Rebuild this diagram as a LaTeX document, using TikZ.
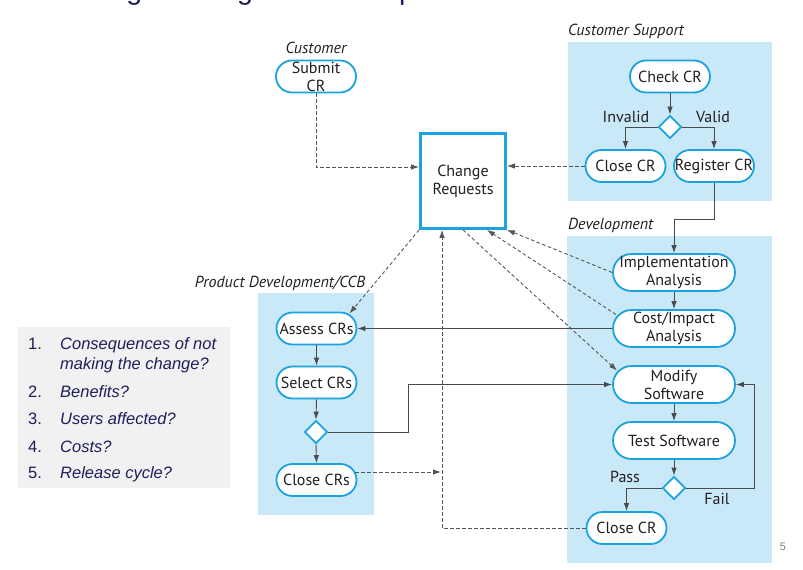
\documentclass[tikz,border=0pt]{standalone}
\usepackage{fontspec}
\setmainfont{PT Sans}
\newfontfamily\listfont{Liberation Sans}
\usetikzlibrary{shapes.geometric,arrows.meta,calc}
\definecolor{cblue}{HTML}{1BA3E0}
\definecolor{lanebg}{HTML}{C9E9F9}
\definecolor{listbg}{HTML}{F1F1F1}
\definecolor{navy}{HTML}{1E1E5C}
\definecolor{txt}{HTML}{231F20}
\definecolor{solidc}{HTML}{4A4A4A}
\definecolor{dashc}{HTML}{555555}
\definecolor{pgnum}{HTML}{7F7F7F}
\begin{document}
\begin{tikzpicture}[x=1pt,y=-1pt,
  every node/.style={text=txt},
  nfont/.style={font=\fontsize{16}{18}\selectfont},
  actS/.style={nfont, draw=cblue, line width=1.8pt, fill=white, rectangle, rounded corners=16pt, minimum width=80pt, minimum height=32pt, inner sep=0pt, align=center},
  actL/.style={actS, rounded corners=18.5pt, minimum width=122pt, minimum height=37pt},
  dec/.style={diamond, draw=cblue, line width=1.8pt, fill=white, minimum size=23pt, inner sep=0pt},
  lanelbl/.style={font=\fontsize{16}{18}\selectfont\itshape, inner sep=0pt},
  lbl/.style={nfont, inner sep=0pt},
  flow/.style={draw=solidc, line width=0.9pt, -{Latex[length=8pt,width=5.5pt]}},
  dflow/.style={draw=dashc, line width=0.9pt, dash pattern=on 3.5pt off 2.5pt, -{Latex[length=8pt,width=5.5pt]}},
  item/.style={font=\listfont\fontsize{16.5}{20}\selectfont\itshape, text=navy, anchor=base west, inner sep=0pt},
  num/.style={font=\listfont\fontsize{16.5}{20}\selectfont, text=navy, anchor=base west, inner sep=0pt}]

\useasboundingbox (0,0) rectangle (803,570);

% clipped title (only descenders visible, as in the reference)
\begin{scope}
\clip (0,0) rectangle (803,570);
\node[font=\listfont\fontsize{28.5}{30}\selectfont, text=navy, anchor=base west, inner sep=0pt] (title) at (58,-1) {Change management\hspace{67pt}process};
\end{scope}

% lanes
\fill[lanebg] (568,42) rectangle (772,201);
\fill[lanebg] (567,236) rectangle (772,563);
\fill[lanebg] (258,293) rectangle (374,515);
\fill[listbg] (18,327) rectangle (230,488);

% lane labels
\node[lanelbl] (lcust) at (316,48) {Customer};
\node[lanelbl, anchor=west] (lcs) at (568,31) {Customer Support};
\node[lanelbl, anchor=west] (ldev) at (568,225) {Development};
\node[lanelbl] (lpd) at (280,283) {Product Development/CCB};

% nodes
\node[actS] (submit) at (316,76.5) {Submit\\CR};
\node[nfont, draw=cblue, line width=2.8pt, fill=white, minimum width=85pt, minimum height=95pt, align=center, inner sep=0pt] (cr) at (463,181) {Change\\Requests};

\node[actS] (check) at (670,76.5) {Check CR};
\node[dec] (d1) at (670,127) {};
\node[actS] (closecs) at (625.5,166) {Close CR};
\node[actS] (register) at (714,166) {Register CR};

\node[actL] (impl) at (674,272.5) {Implementation\\Analysis};
\node[actL] (cost) at (674,328.5) {Cost/Impact\\Analysis};
\node[actL] (modify) at (674,384.5) {Modify\\Software};
\node[actL] (test) at (674,440.5) {Test Software};
\node[dec] (d3) at (674,488) {};
\node[actS] (closedev) at (626.5,528) {Close CR};

\node[actS] (assess) at (316.5,328.5) {Assess CRs};
\node[actS] (select) at (316.5,382.5) {Select CRs};
\node[dec] (d2) at (316,432) {};
\node[actS] (closecrs) at (316.5,480) {Close CRs};

% branch labels
\node[lbl] (linv) at (626,117) {Invalid};
\node[lbl] (lval) at (713,117) {Valid};
\node[lbl] (lpass) at (625,477) {Pass};
\node[lbl] (lfail) at (717,499) {Fail};

% solid flows
\draw[flow] (check.south) -- (d1.north);
\draw[flow] (d1.west) -| (closecs.north);
\draw[flow] (d1.east) -| (register.north);
\coordinate (j1) at (674,219);
\draw[flow] (register.south) |- (j1) -- (impl.north);
\draw[flow] (impl.south) -- (cost.north);
\draw[flow] (modify.south) -- (test.north);
\draw[flow] (test.south) -- (d3.north);
\draw[flow] (d3.west) -| (closedev.north);
\coordinate (f1) at (754,384.5);
\draw[flow] (d3.east) -| (f1) -- (modify.east);

\draw[flow] (assess.south) -- (select.north);
\draw[flow] (select.south) -- (d2.north);
\draw[flow] (d2.south) -- (closecrs.north);
\coordinate (k1) at (408,384.5);
\draw[flow] (d2.east) -| (k1) -- (modify.west);
\draw[flow] (cost.west) -- (assess.east);

% dashed flows
\draw[dflow] (submit.south) |- ($(cr.west)+(0,-14)$);
\draw[dflow] (closecs.west) -- (cr.east |- closecs.west);
\draw[dflow] (cr.south west) -- ($(assess.center)+(33,-15)$);
\draw[dflow] (impl.west) -- (cr.south east);
\draw[dflow] ($(cost.center)+(-58,-14)$) -- ($(cr.south)+(24,0)$);
\draw[dflow] (cr.south) -- ($(modify.center)+(-57,-14)$);
\draw[dflow] (closedev.west) -| ($(cr.south)+(-21,0)$);
\coordinate (m1) at (441,472);
\draw[dflow] ($(closecrs.east)+(-2,-8)$) -- (m1);

% list
\node[num] (n1) at (28,349) {1.};
\node[item] (t1) at (60,349) {Consequences of not};
\node[item] (t1b) at (60,369) {making the change?};
\node[num] (n2) at (28,397) {2.};
\node[item] (t2) at (60,397) {Benefits?};
\node[num] (n3) at (28,424) {3.};
\node[item] (t3) at (60,424) {Users affected?};
\node[num] (n4) at (28,452) {4.};
\node[item] (t4) at (60,452) {Costs?};
\node[num] (n5) at (28,478) {5.};
\node[item] (t5) at (60,478) {Release cycle?};

% page number
\node[font=\listfont\fontsize{11}{12}\selectfont, text=pgnum, inner sep=0pt] (pg) at (783,547) {5};
\end{tikzpicture}
\end{document}
